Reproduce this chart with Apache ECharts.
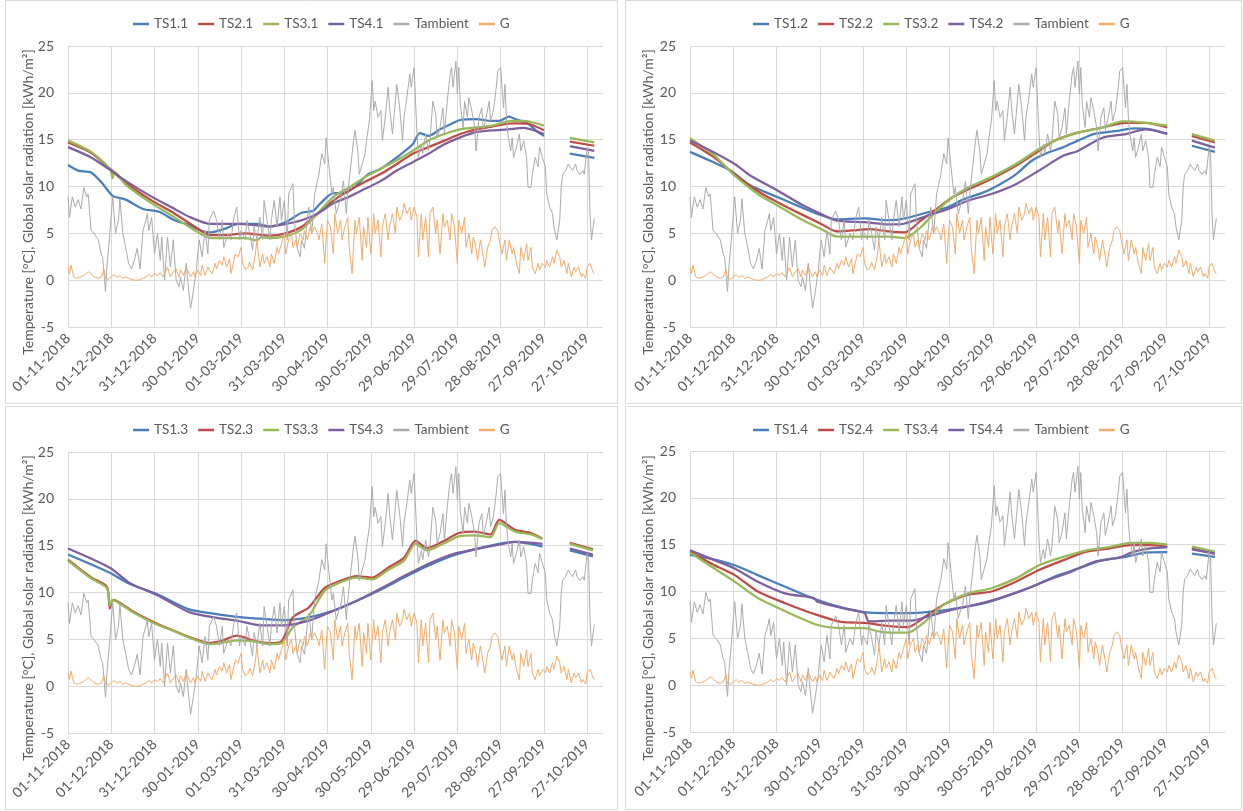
<!DOCTYPE html>
<html><head><meta charset="utf-8">
<script src="https://cdn.jsdelivr.net/npm/echarts@6/dist/echarts.min.js"></script>
<style>html,body{margin:0;padding:0;background:#fff}#c{width:1243px;height:811px}</style>
</head><body><div id="c"></div><script>
// x = day number counted from 01-11-2018
const tickLabels = ['01-11-2018','01-12-2018','31-12-2018','30-01-2019','01-03-2019','31-03-2019','30-04-2019','30-05-2019','29-06-2019','29-07-2019','28-08-2019','27-09-2019','27-10-2019'];
const yTitle = 'Temperature [°C], Global solar radiation [kWh/m²]';

const tambient = [[0,8.9],[1,6.7],[3,8.9],[5,7.8],[7,8.6],[9,7.6],[11,9.9],[13,8.9],[14,9.2],[16,5.3],[18,5.0],[21,4.3],[23,2.8],[24,2.5],[26,-1.2],[27,1.4],[29,5.0],[31,8.9],[33,5.0],[35,6.4],[36,8.7],[38,5.0],[40,3.5],[42,1.8],[44,1.2],[46,2.1],[48,3.4],[50,1.2],[52,5.3],[54,6.4],[55,7.1],[56,5.3],[58,6.7],[60,2.8],[62,5.0],[64,2.1],[65,4.6],[67,0],[69,4.6],[71,1.4],[73,4.3],[75,0],[77,-0.7],[78,0.35],[80,-1.1],[82,1.8],[83,0],[85,-3.0],[87,-1.1],[89,1.1],[90,2.8],[91,4.3],[93,2.5],[95,5.3],[97,2.8],[98,6.4],[101,7.4],[103,6.4],[105,4.3],[107,6.4],[108,3.5],[111,5.0],[113,4.3],[115,6.7],[117,7.8],[119,4.3],[120,5.3],[123,4.3],[124,6.4],[126,5.0],[128,3.2],[129,5.7],[131,4.3],[133,6.7],[135,4.3],[136,8.5],[138,6.4],[140,4.3],[141,6.4],[143,8.5],[145,5.7],[147,8.9],[148,6.4],[150,8.5],[152,4.3],[153,9.2],[156,10.3],[157,6.4],[159,3.4],[161,2.5],[162,4.3],[164,3.4],[166,6.7],[167,7.8],[169,5.0],[171,9.2],[173,10.6],[174,11.3],[176,13.5],[178,12.4],[179,15.2],[181,12.1],[183,9.2],[184,9.9],[186,7.1],[188,8.2],[189,8.5],[191,10.6],[193,7.1],[194,9.2],[196,12.1],[198,14.9],[199,16.0],[201,13.8],[202,11.3],[204,12.4],[206,13.5],[207,14.9],[209,17.0],[211,21.3],[212,18.1],[213,19.1],[215,17.4],[217,18.1],[218,14.9],[220,17.4],[222,20.6],[223,18.4],[225,15.6],[227,19.1],[228,20.9],[230,18.4],[232,14.9],[233,17.4],[235,19.5],[237,22.0],[238,20.6],[240,22.7],[242,15.6],[243,13.1],[245,14.5],[246,13.5],[248,15.6],[250,13.8],[251,14.9],[253,19.1],[255,17.7],[256,15.2],[258,16.3],[260,18.4],[261,15.6],[263,19.1],[265,22.0],[266,22.7],[267,20.6],[269,23.4],[270,19.9],[271,22.7],[272,18.8],[274,16.3],[275,19.1],[277,17.4],[278,19.5],[280,18.1],[282,16.3],[283,13.8],[285,17.4],[287,18.4],[288,16.0],[290,17.4],[292,19.1],[293,17.0],[295,18.1],[297,20.6],[298,22.3],[300,22.7],[302,18.4],[303,20.9],[304,17.4],[305,15.6],[307,13.8],[308,15.2],[309,13.1],[311,14.2],[313,15.6],[314,13.8],[316,14.9],[318,13.1],[319,9.9],[321,9.9],[322,11.3],[324,13.1],[326,12.1],[327,14.2],[329,13.1],[331,12.1],[332,9.2],[334,7.8],[336,7.1],[337,5.7],[339,4.3],[341,6.4],[342,9.9],[343,11.3],[345,11.7],[347,12.4],[348,12.1],[350,11.7],[352,12.4],[353,11.7],[355,11.3],[357,11.7],[358,11.3],[360,14.2],[361,13.5],[362,7.1],[363,4.3],[365,6.6]];

const gRad = [[0,1.4],[1,0.7],[2,1.6],[4,0.35],[6,0.2],[9,0.35],[11,0.5],[14,0.9],[16,0.7],[18,0.35],[21,0.2],[23,0.35],[25,1.1],[26,0.2],[28,0.1],[30,0.35],[32,0.6],[34,0.3],[36,0.5],[38,0.2],[40,0.35],[43,0.15],[46,0],[49,0],[52,0.2],[54,0.35],[56,0.6],[58,0.35],[60,0.7],[62,0.5],[64,0.8],[66,0.35],[67,0.7],[69,1.4],[71,0.35],[73,0.9],[75,1.2],[77,0.35],[78,1.1],[80,0.5],[82,1.4],[85,0.35],[87,0.9],[88,0.35],[90,1.1],[92,0.5],[93,1.6],[95,0.5],[97,1.4],[98,1.1],[100,0.7],[102,1.8],[103,1.2],[105,2.1],[107,1.6],[108,2.5],[110,1.4],[112,2.3],[113,0.7],[115,2.1],[116,2.8],[118,2.5],[120,3.5],[121,1.8],[123,1.1],[125,1.4],[126,1.9],[128,1.1],[130,2.8],[131,4.3],[133,1.4],[135,2.8],[136,1.8],[138,2.5],[140,1.4],[141,2.8],[143,1.8],[145,3.5],[146,2.8],[148,3.9],[150,5.0],[151,2.8],[153,4.3],[155,5.0],[156,3.5],[158,4.3],[159,3.5],[161,5.0],[163,4.3],[164,5.3],[166,4.3],[168,5.7],[169,5.0],[171,5.7],[173,5.0],[174,4.3],[176,6.0],[178,1.8],[179,4.3],[180,6.4],[182,5.7],[184,2.8],[185,7.1],[187,5.0],[189,6.4],[190,4.3],[192,5.7],[194,6.7],[195,3.5],[197,0.7],[199,6.4],[200,5.0],[202,6.7],[204,2.1],[205,5.7],[207,3.5],[208,6.7],[210,2.8],[212,7.1],[213,5.0],[215,6.4],[217,2.5],[218,5.7],[220,7.1],[222,4.3],[223,5.7],[225,7.1],[227,5.0],[228,7.8],[230,6.4],[232,7.1],[233,8.2],[235,7.1],[237,7.8],[238,6.4],[240,7.8],[242,6.7],[243,2.5],[245,7.1],[246,4.3],[248,6.7],[250,2.5],[251,7.1],[253,7.8],[255,5.0],[256,6.4],[258,2.8],[260,7.1],[261,5.7],[263,6.4],[265,4.3],[266,7.1],[268,5.7],[270,1.8],[271,6.4],[273,5.0],[275,6.7],[276,3.5],[278,5.0],[280,2.8],[281,4.6],[283,3.5],[284,2.1],[286,4.3],[288,2.5],[289,1.4],[291,3.5],[293,4.3],[294,5.3],[296,5.7],[298,5.3],[299,4.3],[301,2.8],[303,4.3],[304,2.1],[306,4.3],[308,2.8],[309,3.5],[311,1.8],[313,0.7],[314,3.5],[316,2.1],[318,3.9],[319,2.1],[321,3.5],[322,1.4],[324,0.7],[326,1.8],[327,1.1],[329,1.8],[331,1.4],[332,2.1],[334,1.4],[336,2.5],[337,1.8],[339,3.2],[341,2.5],[342,1.4],[344,2.1],[346,0.7],[347,1.8],[349,0.35],[351,1.4],[352,0.9],[354,1.4],[356,0.35],[357,0.7],[359,0.2],[360,1.4],[362,1.8],[364,0.9],[365,0.7]];

// Panel 1
const ts1_1 = [[0,12.3],[7,11.7],[16,11.5],[24,10.3],[31,9.0],[40,8.6],[52,7.6],[63,7.3],[74,6.4],[85,5.85],[93,5.25],[99,5.1],[109,5.5],[118,6.0],[131,6.0],[140,5.7],[151,6.2],[162,7.2],[170,7.4],[175,8.2],[184,9.3],[192,9.3],[200,10.1],[208,11.3],[217,11.9],[228,13.1],[239,14.5],[244,15.7],[250,15.4],[258,16.1],[266,16.7],[272,17.1],[283,17.2],[294,17.0],[299,17.0],[306,17.45],[310,17.2],[319,16.7],[326,15.8],[330,15.4],[339,null],[348,13.5],[365,13.05]];
const ts2_1 = [[0,14.7],[16,13.6],[29,11.9],[40,10.4],[57,8.6],[74,7.1],[85,6.0],[99,4.8],[107,4.8],[123,5.0],[140,4.75],[151,5.0],[162,5.7],[173,7.1],[184,8.5],[195,9.6],[206,10.5],[217,11.35],[228,12.4],[239,13.5],[250,14.2],[261,14.9],[272,15.6],[283,16.1],[294,16.4],[305,16.7],[310,16.75],[319,16.7],[330,16.0],[339,null],[348,14.8],[365,14.35]];
const ts3_1 = [[0,14.9],[16,13.7],[29,11.9],[31,10.9],[32,11.6],[40,10.2],[57,8.3],[74,6.7],[85,5.6],[99,4.5],[107,4.5],[123,4.5],[131,4.25],[134,4.6],[140,4.5],[151,4.7],[162,5.4],[173,7.1],[184,8.9],[195,9.9],[206,11.0],[217,11.9],[228,12.8],[239,13.8],[250,14.9],[261,15.6],[272,16.1],[283,16.3],[294,16.5],[305,16.95],[316,17.0],[330,16.5],[339,null],[348,15.2],[365,14.7]];
const ts4_1 = [[0,14.2],[16,13.1],[29,11.8],[40,10.6],[57,9.0],[74,7.6],[85,6.7],[99,6.0],[118,6.0],[140,5.75],[151,6.0],[162,6.4],[173,7.1],[184,8.2],[195,8.9],[206,9.75],[217,10.6],[228,11.7],[239,12.6],[250,13.5],[261,14.5],[272,15.25],[283,15.8],[294,16.0],[305,16.1],[316,16.25],[330,15.6],[339,null],[348,14.3],[365,13.8]];
// Panel 2
const ts1_2 = [[0,13.7],[14,12.75],[28,11.7],[42,10.1],[61,8.85],[77,7.8],[88,7.1],[102,6.5],[121,6.6],[138,6.4],[149,6.6],[165,7.25],[179,7.8],[190,8.65],[204,9.4],[215,10.25],[226,11.3],[237,12.75],[248,13.6],[259,14.2],[269,14.9],[280,15.6],[297,15.95],[308,16.2],[319,16.1],[331,15.6],[340,null],[348,14.35],[364,13.7]];
const ts2_2 = [[0,14.7],[17,13.1],[31,11.3],[47,9.5],[61,8.3],[77,7.05],[91,6.0],[102,5.2],[116,5.35],[124,5.45],[138,5.2],[149,5.1],[160,6.35],[171,7.6],[182,8.85],[193,9.7],[209,10.8],[226,12.2],[242,13.8],[253,14.9],[269,15.75],[286,16.3],[302,16.8],[316,16.8],[331,16.3],[340,null],[348,15.4],[364,14.7]];
const ts3_2 = [[0,15.15],[17,13.3],[31,11.15],[47,9.2],[61,7.95],[77,6.5],[91,5.45],[102,4.65],[121,4.65],[138,4.65],[149,4.5],[160,5.65],[171,7.4],[182,8.85],[193,9.9],[209,11.0],[226,12.4],[242,14.0],[253,14.9],[269,15.75],[286,16.3],[300,16.95],[316,16.8],[331,16.5],[340,null],[348,15.6],[364,14.9]];
const ts4_2 = [[0,14.9],[17,13.6],[31,12.4],[42,11.15],[61,9.55],[77,8.1],[91,7.05],[102,6.35],[121,6.2],[138,5.95],[149,6.05],[165,6.9],[179,7.6],[193,8.5],[209,9.2],[226,10.25],[242,11.7],[259,13.3],[269,13.8],[286,15.2],[302,15.6],[316,16.1],[331,15.65],[340,null],[348,14.9],[364,14.15]];
// Panel 3
const ts1_3 = [[0,14.05],[29,12.1],[43,10.9],[62,9.8],[84,8.2],[101,7.75],[117,7.4],[134,7.2],[150,7.05],[167,7.35],[181,7.9],[200,9.1],[216,10.25],[233,11.6],[249,12.8],[266,13.9],[282,14.6],[299,15.2],[310,15.4],[329,14.9],[339,null],[348,14.5],[364,13.85]];
const ts2_3 = [[0,13.5],[16,11.6],[27,10.6],[29,8.3],[31,9.2],[35,9.0],[46,7.9],[60,6.8],[73,5.95],[84,5.25],[98,4.6],[106,4.8],[117,5.4],[128,4.9],[139,4.6],[148,4.8],[156,7.35],[167,8.4],[178,10.5],[189,11.25],[200,11.75],[211,11.6],[222,12.65],[233,13.7],[241,15.5],[249,14.75],[260,15.45],[271,16.35],[282,16.5],[293,16.2],[299,17.75],[310,16.7],[321,16.35],[329,15.75],[339,null],[348,15.3],[364,14.6]];
const ts3_3 = [[0,13.4],[16,11.5],[27,10.5],[29,8.6],[31,9.2],[35,8.9],[46,7.8],[60,6.7],[73,5.9],[84,5.2],[98,4.5],[106,4.6],[117,4.9],[128,4.8],[139,4.5],[148,4.6],[156,6.3],[167,7.5],[178,10.2],[189,11.1],[200,11.6],[211,11.4],[222,12.4],[233,13.4],[241,15.2],[249,14.5],[260,15.2],[271,16.0],[282,16.1],[293,15.9],[299,17.4],[310,16.5],[321,16.2],[329,15.7],[339,null],[348,15.2],[364,14.5]];
const ts4_3 = [[0,14.7],[29,12.65],[43,11.0],[62,9.7],[84,7.9],[101,7.35],[117,7.0],[134,6.5],[150,6.5],[167,7.0],[181,7.85],[200,9.1],[216,10.35],[233,11.75],[249,13.0],[266,14.05],[282,14.6],[299,15.1],[310,15.4],[329,15.2],[339,null],[348,14.7],[364,14.05]];
// Panel 4
const ts1_4 = [[0,13.9],[14,13.5],[31,12.8],[47,11.75],[66,10.5],[88,9.1],[105,8.3],[121,7.8],[138,7.7],[154,7.7],[171,7.9],[187,8.25],[204,8.75],[220,9.55],[237,10.5],[253,11.6],[269,12.45],[286,13.35],[302,13.7],[316,14.15],[331,14.2],[340,null],[348,14.05],[364,13.7]];
const ts2_4 = [[0,14.25],[17,12.8],[31,11.75],[47,10.0],[66,8.75],[88,7.5],[105,6.75],[121,6.65],[138,6.3],[151,6.2],[162,7.2],[176,8.6],[193,9.65],[209,10.0],[226,11.05],[242,12.3],[259,13.35],[275,14.25],[291,14.6],[305,14.95],[319,14.95],[331,14.8],[340,null],[348,14.6],[364,14.05]];
const ts3_4 = [[0,14.15],[17,12.45],[31,11.05],[47,9.3],[66,7.9],[88,6.45],[105,6.1],[121,6.1],[132,5.7],[151,5.6],[162,6.65],[176,8.6],[193,9.8],[209,10.35],[226,11.4],[242,12.8],[259,13.7],[275,14.4],[291,14.75],[305,15.2],[319,15.2],[331,15.0],[340,null],[348,14.8],[364,14.25]];
const ts4_4 = [[0,14.4],[17,13.35],[31,12.45],[47,11.05],[66,9.8],[86,9.3],[88,8.95],[105,8.25],[121,7.7],[124,6.8],[138,6.9],[154,6.9],[165,7.35],[182,8.05],[198,8.6],[215,9.3],[231,10.15],[248,11.2],[264,12.1],[280,13.15],[297,13.6],[308,14.25],[319,14.6],[331,14.75],[340,null],[348,14.5],[364,14.05]];

const panelNames = [
  ['TS1.1','TS2.1','TS3.1','TS4.1'],
  ['TS1.2','TS2.2','TS3.2','TS4.2'],
  ['TS1.3','TS2.3','TS3.3','TS4.3'],
  ['TS1.4','TS2.4','TS3.4','TS4.4']
];
const panelData = [
  [ts1_1, ts2_1, ts3_1, ts4_1],
  [ts1_2, ts2_2, ts3_2, ts4_2],
  [ts1_3, ts2_3, ts3_3, ts4_3],
  [ts1_4, ts2_4, ts3_4, ts4_4]
];

const tsColors = ['#4A7EBB', '#BE4B48', '#98B954', '#7D60A0'];
const ambColor = '#ABABAB';
const gColor = '#F2AC6B';
const txt = '#595959';
const gridCol = '#D9D9D9';
const FONT = 'Lato, "Open Sans", sans-serif';

const layout = [
  {left: 68, top: 46, px: 0, py: 0},
  {left: 690, top: 46, px: 620, py: 0},
  {left: 68, top: 452, px: 0, py: 406},
  {left: 690, top: 451, px: 620, py: 406}
];

const grid = [], xAxis = [], yAxis = [], legend = [], series = [], graphic = [];
layout.forEach((L, p) => {
  grid.push({left: L.left, top: L.top, width: 535, height: 281});
  xAxis.push({
    type: 'value', gridIndex: p, min: 0, max: 371, interval: 30,
    axisLine: {show: false}, axisTick: {show: false},
    axisLabel: {
      rotate: 45, color: txt, fontSize: 14, fontFamily: FONT, margin: 9,
      showMaxLabel: false,
      formatter: v => (v % 30 === 0 && tickLabels[v / 30]) || ''
    },
    splitLine: {show: true, showMaxLine: false, lineStyle: {color: gridCol, width: 1}}
  });
  yAxis.push({
    type: 'value', gridIndex: p, min: -5, max: 25, interval: 5,
    axisLine: {show: false}, axisTick: {show: false},
    axisLabel: {color: txt, fontSize: 14, fontFamily: FONT, margin: 14},
    splitLine: {show: true, lineStyle: {color: gridCol, width: 1}}
  });
  const names = panelNames[p].concat(['Tambient', 'G']);
  legend.push({
    data: names.map(n => ({name: n, icon: 'rect'})),
    left: L.px + 128, top: L.py + 12,
    itemWidth: 16, itemHeight: 2.5, itemGap: 10,
    textStyle: {color: txt, fontSize: 13.5, fontFamily: FONT}
  });
  panelNames[p].forEach((nm, i) => {
    series.push({
      name: nm, type: 'line', xAxisIndex: p, yAxisIndex: p,
      data: panelData[p][i], symbol: 'none', showSymbol: false, connectNulls: false,
      smooth: 0.25,
      lineStyle: {color: tsColors[i], width: 2.25}, itemStyle: {color: tsColors[i]}
    });
  });
  series.push({
    name: 'Tambient', type: 'line', xAxisIndex: p, yAxisIndex: p,
    data: tambient, symbol: 'none', showSymbol: false,
    lineStyle: {color: ambColor, width: 1}, itemStyle: {color: ambColor}
  });
  series.push({
    name: 'G', type: 'line', xAxisIndex: p, yAxisIndex: p,
    data: gRad, symbol: 'none', showSymbol: false,
    lineStyle: {color: gColor, width: 1}, itemStyle: {color: gColor}
  });
  graphic.push({
    type: 'rect', silent: true, z: -1,
    shape: {x: L.px + 5.5, y: L.py + 0.5, width: (p % 2 ? 616 : 612), height: 403},
    style: {fill: null, stroke: gridCol, lineWidth: 1}
  });
  graphic.push({
    type: 'text', silent: true, rotation: Math.PI / 2,
    x: L.px + 28, y: L.py + 202,
    style: {text: yTitle, fill: txt, fontSize: 14, fontFamily: FONT, align: 'center', verticalAlign: 'middle'}
  });
});

const chart = echarts.init(document.getElementById('c'), null, {renderer: 'canvas'});
chart.setOption({
  animation: false, backgroundColor: '#fff',
  grid, xAxis, yAxis, legend, series, graphic
});
</script></body></html>
